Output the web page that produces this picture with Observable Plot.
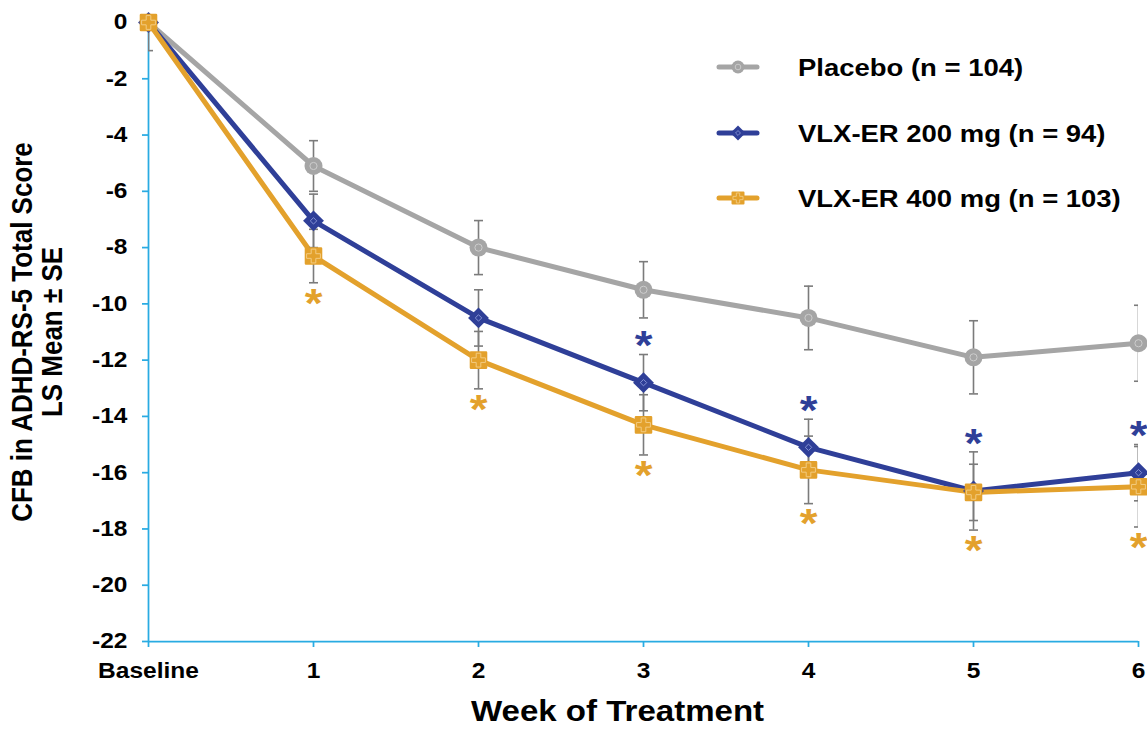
<!DOCTYPE html>
<html><head><meta charset="utf-8">
<script src="https://cdn.jsdelivr.net/npm/d3@7"></script>
<script src="https://cdn.jsdelivr.net/npm/@observablehq/plot@0.6"></script>
<style>
body{margin:0;background:#fff;}
#chart{position:relative;width:1147px;height:732px;overflow:hidden;}
#chart svg{position:absolute;left:0;top:0;}
</style></head><body><div id="chart"></div>
<script>
// ---- data ----
const weeks = ["Baseline", "1", "2", "3", "4", "5", "6"];
const seriesNames = ["Placebo (n = 104)", "VLX-ER 200 mg (n = 94)", "VLX-ER 400 mg (n = 103)"];
const placeboMean = [0, -5.1, -8.0, -9.5, -10.5, -11.9, -11.4];
const placeboSE   = [1.0, 0.9, 0.96, 1.0, 1.13, 1.3, 1.35];
const vlx200Mean  = [0, -7.05, -10.5, -12.8, -15.1, -16.65, -16.0];
const vlx200SE    = [0, 0.95, 1.0, 1.0, 1.0, 1.39, 1.0];
const vlx400Mean  = [0, -8.3, -12.0, -14.3, -15.9, -16.7, -16.5];
const vlx400SE    = [0, 0.95, 1.02, 1.07, 1.2, 1.0, 1.43];
const sig200      = [false, false, false, true, true, true, true];
const sig400      = [false, true, true, true, true, true, true];
const yTicks      = [0, -2, -4, -6, -8, -10, -12, -14, -16, -18, -20, -22];
const yTitle      = "CFB in ADHD-RS-5 Total Score\nLS Mean ± SE";
const xTitle      = "Week of Treatment";

// ---- styles ----
const colors = ["#a5a5a5", "#2f3f98", "#e3a12c"];
const inner  = ["#cdcdcd", "#8592d4", "#f3cb80"];
const AXIS = "#29abe2", ERR = "#7b7b7b";
const FONT = "'Liberation Sans', Arial, Helvetica, sans-serif";
const SX = 1.14;

const means = [placeboMean, vlx200Mean, vlx400Mean];
const ses = [placeboSE, vlx200SE, vlx400SE];
const data = [];
seriesNames.forEach((name, s) => weeks.forEach((w, i) =>
  data.push({series: name, s, i, week: w, mean: means[s][i], se: ses[s][i]})));
const byS = s => data.filter(d => d.s === s);
const errData = data.filter(d => d.se > 0);
// asterisks sit above / below the outermost active-drug error bar of each week
const drugTop = i => Math.max(vlx200Mean[i] + vlx200SE[i], vlx400Mean[i] + vlx400SE[i]);
const drugBottom = i => Math.min(vlx200Mean[i] - vlx200SE[i], vlx400Mean[i] - vlx400SE[i]);
const star200 = weeks.map((w, i) => ({week: w, y: drugTop(i)})).filter((d, i) => sig200[i]);
const star400 = weeks.map((w, i) => ({week: w, y: drugBottom(i)})).filter((d, i) => sig400[i]);

// horizontal cap symbol for error bars
const capSymbol = {draw(ctx) { ctx.moveTo(-4.5, 0); ctx.lineTo(4.5, 0); }};

const plot = Plot.plot({
  width: 1147, height: 732,
  marginTop: 22, marginBottom: 91, marginLeft: 148, marginRight: 9,
  x: {type: "point", domain: weeks, padding: 0},
  y: {domain: [-22, 0]},
  style: {fontFamily: FONT, fontWeight: "bold", fontSize: "21px", color: "#000", background: "#fff", overflow: "visible"},
  marks: [
    Plot.axisY({ticks: yTicks, tickFormat: d => String(d), tickSize: 6, tickPadding: 15,
      stroke: AXIS, strokeWidth: 1.75, fill: "#000", label: null, fontSize: 21.5}),
    Plot.axisX({tickSize: 6, tickPadding: 15, stroke: AXIS, strokeWidth: 1.75,
      fill: "#000", label: null, fontSize: 21.5}),
    Plot.ruleX(["Baseline"], {stroke: AXIS, strokeWidth: 1.75}),
    Plot.ruleY([-22], {stroke: AXIS, strokeWidth: 1.75}),
    ...[0, 1, 2].map(s => Plot.line(byS(s), {x: "week", y: "mean", stroke: colors[s], strokeWidth: 5})),
    Plot.ruleX(errData, {x: "week", y1: d => d.mean - d.se, y2: d => d.mean + d.se, stroke: ERR, strokeWidth: 1.6, clip: true}),
    Plot.dot(errData, {x: "week", y: d => d.mean - d.se, symbol: capSymbol, stroke: ERR, strokeWidth: 1.6, fill: "none", clip: true}),
    Plot.dot(errData, {x: "week", y: d => d.mean + d.se, symbol: capSymbol, stroke: ERR, strokeWidth: 1.6, fill: "none", clip: true}),
    // markers
    Plot.dot(byS(0), {x: "week", y: "mean", r: 9, fill: colors[0], symbol: "circle"}),
    Plot.dot(byS(0), {x: "week", y: "mean", r: 3.6, stroke: inner[0], fill: "none", strokeWidth: 1, symbol: "circle"}),
    Plot.dot(byS(1), {x: "week", y: "mean", r: 9.4, fill: colors[1], symbol: "diamond2"}),
    Plot.dot(byS(1), {x: "week", y: "mean", r: 2.9, stroke: inner[1], fill: "none", strokeWidth: 1, symbol: "diamond2"}),
    Plot.dot(byS(2), {x: "week", y: "mean", r: 8.5, fill: colors[2], stroke: colors[2], strokeWidth: 2.5, strokeLinejoin: "round", symbol: "square"}),
    Plot.dot(byS(2), {x: "week", y: "mean", r: 5.8, stroke: inner[2], fill: "none", strokeWidth: 1, symbol: "cross"}),
    // significance asterisks
    Plot.text(star200, {x: "week", y: "y", text: () => "*", fill: colors[1], fontSize: 40, dy: -8}),
    Plot.text(star400, {x: "week", y: "y", text: () => "*", fill: colors[2], fontSize: 40, dy: 21}),
    // titles
    Plot.text([yTitle], {text: d => d, frameAnchor: "left", textAnchor: "middle", rotate: -90, dx: -111, fontSize: 26, lineHeight: 1.02}),
    Plot.text([xTitle], {text: d => d, frameAnchor: "bottom", dx: -26, dy: 79, fontSize: 29})
  ]
});

// horizontal stretch of the lettering (matches the reference's wide type)
plot.querySelectorAll("text").forEach(t => {
  const tr = t.getAttribute("transform");
  if (tr && /rotate/.test(tr)) t.setAttribute("transform", tr + ` scale(1,${SX})`);
  else if (tr) t.setAttribute("transform", tr + ` scale(${SX},1)`);
  else {
    const x = t.getAttribute("x") || 0, y = t.getAttribute("y") || 0;
    t.removeAttribute("x"); t.removeAttribute("y");
    t.setAttribute("transform", `translate(${x},${y}) scale(${SX},1)`);
  }
});
document.getElementById("chart").appendChild(plot);

// ---- legend ----
const lg = d3.select("#chart").append("svg").attr("width", 1147).attr("height", 732)
  .style("pointer-events", "none").attr("font-family", FONT).attr("font-weight", "bold");
const legendRowY = [67, 133, 198];
const legendSym = [d3.symbolCircle, d3.symbolDiamond2, d3.symbolSquare];
const legendR = [6.5, 6.8, 6.2];
const legendInner = [d3.symbolCircle, d3.symbolDiamond2, d3.symbolCross];
const legendInnerR = [2.8, 2.2, 4.2];
seriesNames.forEach((name, s) => {
  const g = lg.append("g").attr("transform", `translate(0,${legendRowY[s]})`);
  g.append("line").attr("x1", 719).attr("x2", 757).attr("stroke", colors[s]).attr("stroke-width", 5).attr("stroke-linecap", "round");
  g.append("path").attr("transform", "translate(738,0)")
    .attr("d", d3.symbol(legendSym[s], Math.PI * legendR[s] ** 2)())
    .attr("fill", colors[s]).attr("stroke", s === 2 ? colors[s] : "none").attr("stroke-width", 2).attr("stroke-linejoin", "round");
  g.append("path").attr("transform", "translate(738,0)")
    .attr("d", d3.symbol(legendInner[s], Math.PI * legendInnerR[s] ** 2)())
    .attr("fill", "none").attr("stroke", inner[s]).attr("stroke-width", 0.9);
  g.append("text").attr("transform", `translate(798,0) scale(${SX},1)`).attr("dy", "0.36em")
    .attr("font-size", 24.1).attr("fill", "#000").text(name);
});
</script>
</body></html>
